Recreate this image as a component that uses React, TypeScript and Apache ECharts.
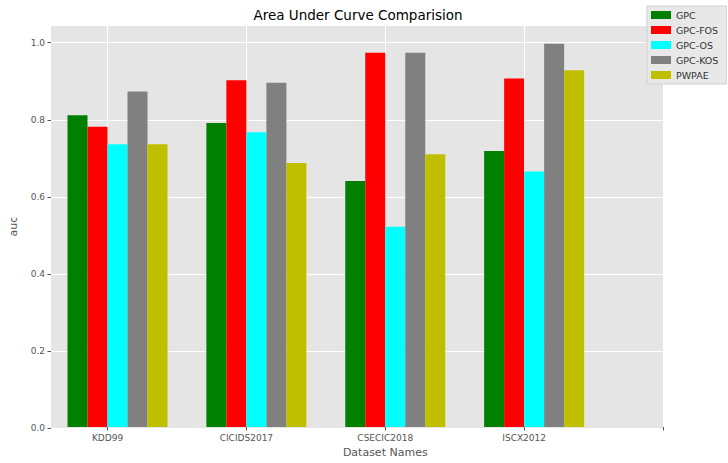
import React, { useEffect, useRef } from "react";
import * as echarts from "echarts";

const categories = ["KDD99", "CICIDS2017", "CSECIC2018", "ISCX2012"];
const xTickLabels = [...categories, ""];
const seriesNames = ["GPC", "GPC-FOS", "GPC-OS", "GPC-KOS", "PWPAE"];
const gpc = [0.811, 0.791, 0.64, 0.718];
const gpcFos = [0.781, 0.902, 0.974, 0.907];
const gpcOs = [0.736, 0.767, 0.521, 0.665];
const gpcKos = [0.873, 0.896, 0.974, 0.997];
const pwpae = [0.736, 0.687, 0.71, 0.928];
const yTicks = [0, 0.2, 0.4, 0.6, 0.8, 1.0];
const colors = ["#008000", "#FF0000", "#00FFFF", "#808080", "#BFBF00"];

const FONT = "DejaVu Sans";

export default function App() {
  const ref = useRef<HTMLDivElement>(null);
  useEffect(() => {
    if (!ref.current) return;
    const chart = echarts.init(ref.current, undefined, { renderer: "svg" });
    const yMax = 1.046;
    const values = [gpc, gpcFos, gpcOs, gpcKos, pwpae];
    const barSeries: any[] = [
      {
        name: "_spacer",
        type: "bar",
        xAxisIndex: 1,
        yAxisIndex: 1,
        barWidth: 20,
        barGap: "0%",
        data: categories.map(() => "-"),
        silent: true,
      },
      ...seriesNames.map((n, i) => ({
        name: n,
        type: "bar",
        xAxisIndex: 1,
        yAxisIndex: 1,
        barWidth: 20,
        barGap: "0%",
        itemStyle: { color: colors[i] },
        data: values[i],
      })),
    ];
    chart.setOption({
      animation: false,
      backgroundColor: "#FFFFFF",
      textStyle: { fontFamily: FONT },
      title: {
        text: "Area Under Curve Comparision",
        left: 353,
        textAlign: "center",
        top: 3,
        textStyle: { fontFamily: FONT, fontSize: 13.5, fontWeight: "normal", color: "#000" },
      },
      legend: {
        data: seriesNames,
        orient: "vertical",
        left: 647,
        top: 6,
        itemWidth: 20,
        itemHeight: 8,
        itemGap: 5,
        padding: [4, 8, 4, 4],
        backgroundColor: "#E8E8E8",
        borderColor: "#D0D0D0",
        borderWidth: 1,
        icon: "rect",
        textStyle: { fontFamily: FONT, fontSize: 9.5, color: "#333" },
      },
      grid: [
        {
          left: 43,
          right: 65,
          top: 25,
          bottom: 35,
          show: true,
          backgroundColor: "#E5E5E5",
          borderWidth: 0,
        },
        {
          left: 107.5,
          right: 65,
          top: 25,
          bottom: 35,
          show: false,
        },
      ],
      xAxis: [
        {
          gridIndex: 0,
          type: "value",
          show: false,
        },
        {
          gridIndex: 1,
          type: "category",
          data: xTickLabels,
          boundaryGap: false,
          name: "Dataset Names",
          nameLocation: "middle",
          nameGap: 20,
          nameTextStyle: { fontFamily: FONT, fontSize: 11, color: "#555" },
          axisLine: { show: false },
          axisTick: { show: true, length: 3.5, lineStyle: { color: "#555" } },
          axisLabel: { fontFamily: FONT, fontSize: 9, color: "#555", margin: 6, interval: 0 },
          splitLine: { show: true, lineStyle: { color: "#FFFFFF", width: 1 } },
        },
      ],
      yAxis: [
        {
          gridIndex: 0,
          type: "value",
          min: 0,
          max: yMax,
          interval: 0.2,
          name: "auc",
          nameLocation: "middle",
          nameGap: 32,
          nameTextStyle: { fontFamily: FONT, fontSize: 11, color: "#555" },
          axisLine: { show: false },
          axisTick: { show: true, length: 3.5, lineStyle: { color: "#555" } },
          axisLabel: {
            fontFamily: FONT,
            fontSize: 9,
            color: "#555",
            margin: 6,
            showMaxLabel: false,
            formatter: (v: number) =>
              yTicks.some((t) => Math.abs(t - v) < 1e-6) ? v.toFixed(1) : "",
          },
          splitLine: { show: true, lineStyle: { color: "#FFFFFF", width: 1 } },
        },
        {
          gridIndex: 1,
          type: "value",
          min: 0,
          max: yMax,
          show: false,
        },
      ],
      series: barSeries,
    });
    return () => chart.dispose();
  }, []);
  return <div ref={ref} style={{ width: 728, height: 463, position: "absolute", left: 0, top: 0 }} />;
}
